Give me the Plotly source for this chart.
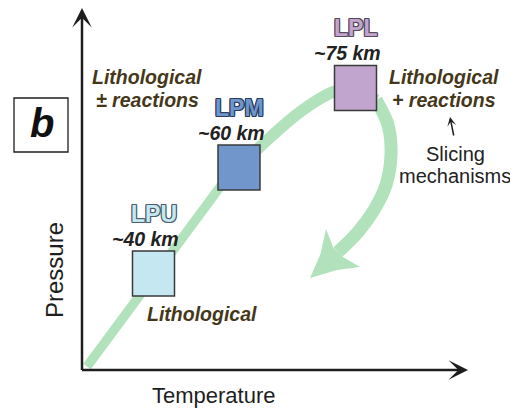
import plotly.graph_objects as go

# schematic P-T path, axes origin at (0, 0); one unit = one screen pixel
units = ["LPU", "LPM", "LPL"]
depths = ["~40 km", "~60 km", "~75 km"]
unit_temp = [71.5, 157, 273.5]
unit_pres = [96.5, 202.5, 282]
unit_fill = ["#c5e7f1", "#7196cb", "#c1a5cf"]
unit_edge = ["#4d5f6b", "#2c3e5e", "#544a5c"]

# prograde (burial) path, then the retrograde loop after LPL
path_temp_up = [5, 73, 141]
path_pres_up = [3.5, 95, 187]
path_temp_top = [141, 180, 218, 251, 273, 294]
path_pres_top = [187, 225, 258, 278, 282, 270]
path_temp_down = [294, 306, 309, 304, 292, 276, 256]
path_pres_down = [270, 245, 215, 185, 160, 138, 118]

green = "#b2e2bb"
dark = "#1e1e1e"
brown = "#45381a"
font_family = "Liberation Sans, Arial, sans-serif"

fig = go.Figure()

fig.add_trace(go.Scatter(x=path_temp_up, y=path_pres_up, mode="lines",
                         line=dict(color=green, width=9.5), hoverinfo="skip"))
fig.add_trace(go.Scatter(x=path_temp_top, y=path_pres_top, mode="lines",
                         line=dict(color=green, width=11.5, shape="spline", smoothing=1),
                         hoverinfo="skip"))
fig.add_trace(go.Scatter(x=path_temp_down, y=path_pres_down, mode="lines",
                         line=dict(color=green, width=13, shape="spline", smoothing=1),
                         hoverinfo="skip"))

# curved dart at the end of the retrograde path
tx, ty = path_temp_down[-1], path_pres_down[-1]
head_dx = [-28, -17.5, -12, -5, 5, 22, -1, -28]
head_dy = [-26, -2, 23, 5, -5, -15, -18, -26]
fig.add_trace(go.Scatter(x=[tx + d for d in head_dx], y=[ty + d for d in head_dy],
                         mode="lines", fill="toself", fillcolor=green,
                         line=dict(width=0, color=green), hoverinfo="skip"))

font = lambda size, color=dark, **kw: dict(family=font_family, size=size, color=color, **kw)

def outline(c):
    offs = [(1, 0), (-1, 0), (0, 1), (0, -1), (1, 1), (-1, -1), (1, -1), (-1, 1)]
    return ", ".join(f"{a}px {b}px 0 {c}" for a, b in offs)

shapes = []
annotations = []
for name, depth, t, p, fc, ec in zip(units, depths, unit_temp, unit_pres, unit_fill, unit_edge):
    shapes.append(dict(type="rect", xref="x", yref="y", x0=t - 21, x1=t + 21,
                       y0=p - 22.5, y1=p + 22.5, fillcolor=fc,
                       line=dict(color="#3a3a3a", width=1.5)))
    annotations.append(dict(x=t, y=p, yshift=60, text=name, showarrow=False,
                            font=font(23, fc, weight="bold", shadow=outline(ec))))
    annotations.append(dict(x=t, y=p, xshift=-8, yshift=35, text=depth, showarrow=False,
                            font=font(19.5, "#222222", weight="bold", style="italic")))

# panel label box
shapes.append(dict(type="rect", xref="x", yref="y", x0=-68, x1=-14, y0=218, y1=272,
                   line=dict(color=dark, width=1.3), fillcolor="white"))
annotations.append(dict(x=-40, y=247.5, text="b", showarrow=False,
                        font=font(40, "#111111", weight="bold", style="italic")))

# axes with arrowheads
annotations.append(dict(x=0, y=362, ax=0, ay=-1.5, axref="x", ayref="y", text="",
                        showarrow=True, arrowhead=3, arrowsize=1.3, arrowwidth=2.5,
                        arrowcolor=dark))
annotations.append(dict(x=386, y=0, ax=-1.5, ay=0, axref="x", ayref="y", text="",
                        showarrow=True, arrowhead=3, arrowsize=1.3, arrowwidth=2.5,
                        arrowcolor=dark))
annotations.append(dict(x=132, y=-25.4, text="Temperature", showarrow=False, font=font(22)))
annotations.append(dict(x=-28, y=100, text="Pressure", textangle=-90, showarrow=False,
                        font=font(24)))

# process annotations
bi = dict(weight="bold", style="italic")
annotations += [
    dict(x=65, y=292.8, text="Lithological", showarrow=False, font=font(19.5, brown, **bi)),
    dict(x=65, y=269.8, text="± reactions", showarrow=False, font=font(19.5, brown, **bi)),
    dict(x=361.5, y=293.5, text="Lithological", showarrow=False, font=font(19.5, brown, **bi)),
    dict(x=361.5, y=270.5, text="+ reactions", showarrow=False, font=font(19.5, brown, **bi)),
    dict(x=120, y=56, text="Lithological", showarrow=False, font=font(19.5, brown, **bi)),
    dict(x=373, y=216, text="Slicing", showarrow=False, font=font(20, "#222222")),
    dict(x=373, y=194, text="mechanisms", showarrow=False, font=font(20, "#222222")),
    dict(x=368, y=253, ax=372, ay=233, axref="x", ayref="y", text="", showarrow=True,
         arrowhead=3, arrowsize=1.0, arrowwidth=1.5, arrowcolor=dark),
]

# the page puts the plot 8 px in from the top-left corner, so the figure is 8 px smaller
fig.update_layout(
    width=510, height=400,
    margin=dict(l=0, r=0, t=0, b=0),
    paper_bgcolor="white", plot_bgcolor="white",
    showlegend=False,
    xaxis=dict(range=[-74, 436], visible=False, fixedrange=True),
    yaxis=dict(range=[-38, 362], visible=False, fixedrange=True),
    shapes=shapes,
    annotations=annotations,
)

fig.write_html("out.html", config={"displayModeBar": False})
